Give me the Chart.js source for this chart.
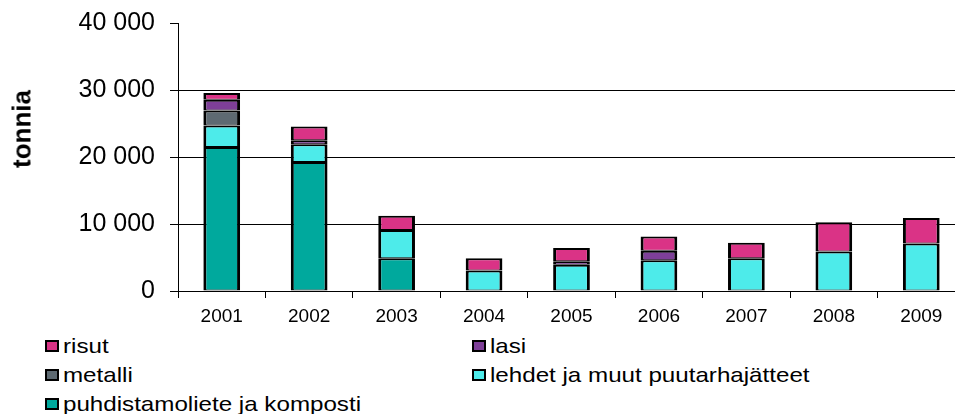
<!DOCTYPE html>
<html>
<head>
<meta charset="utf-8">
<script src="https://cdn.jsdelivr.net/npm/chart.js@4.4.1/dist/chart.umd.min.js"></script>
<style>
  html, body { margin: 0; padding: 0; background: #fff; overflow: hidden; width: 955px; height: 414px; }
  body { position: relative; font-family: "Liberation Sans", Arial, sans-serif; color: #000; }
  #wrap { position: absolute; left: 0; top: 0; width: 967px; height: 326px; }
  #yTitle {
    position: absolute; left: 22px; top: 129px;
    transform: translate(-50%, -50%) rotate(-90deg);
    font-weight: bold; font-size: 26px; white-space: nowrap;
  }
  .item { position: absolute; height: 24px; line-height: 24px; display: flex; align-items: center; font-size: 21px; white-space: nowrap; }
  .item .txt { display: inline-block; transform: scaleX(1.15); transform-origin: left center; }
  .box { width: 10px; height: 8px; border: 2px solid #000; margin-right: 4px; }
</style>
</head>
<body>
<div id="wrap"><canvas id="chart"></canvas></div>
<div id="yTitle">tonnia</div>
<div id="legend"></div>
<script>
const years = ["2001", "2002", "2003", "2004", "2005", "2006", "2007", "2008", "2009"];

// tonnia per vuosi, pinottuna alhaalta ylös
const puhdistamoliete = [21500, 19250, 4900, null, null, null, null, null, null];
const lehdet = [3200, 2650, 4200, 3050, 3900, 4600, 4900, 5900, 7100];
const metalli = [2250, null, null, null, null, null, null, null, null];
const lasi = [1600, 600, null, null, 550, 1400, null, null, null];
const risut = [1000, 2050, 2150, 1850, 1950, 2150, 2300, 4350, 3800];

const yTicks = [0, 10000, 20000, 30000, 40000];

const fmt = v => String(v).replace(/\B(?=(\d{3})+(?!\d))/g, " ");

const datasets = [
  { label: "puhdistamoliete ja komposti", data: puhdistamoliete, backgroundColor: "#00A99D" },
  { label: "lehdet ja muut puutarhajätteet", data: lehdet, backgroundColor: "#4DEBEA" },
  { label: "metalli", data: metalli, backgroundColor: "#5E6A72" },
  { label: "lasi", data: lasi, backgroundColor: "#7E3F98" },
  { label: "risut", data: risut, backgroundColor: "#DA3386" }
].map(d => Object.assign(d, {
  borderColor: "#000",
  borderWidth: { top: 2, bottom: 1, left: 3, right: 3 },
  borderSkipped: false,
  categoryPercentage: 1,
  barPercentage: 0.42
}));

const chart = new Chart(document.getElementById("chart"), {
  type: "bar",
  data: { labels: years, datasets },
  options: {
    responsive: true,
    maintainAspectRatio: false,
    animation: false,
    layout: { padding: { left: 0, top: 23, right: 2, bottom: 0 } },
    plugins: { legend: { display: false }, tooltip: { enabled: false } },
    scales: {
      x: {
        stacked: true,
        afterFit: s => { s.height = 35; },
        grid: { drawOnChartArea: false, tickLength: 7, color: "#000" },
        border: { color: "#000", width: 1 },
        ticks: { color: "#000", padding: 7, font: { family: "'Liberation Sans', Arial", size: 19 } }
      },
      y: {
        stacked: true,
        min: yTicks[0],
        max: yTicks[yTicks.length - 1],
        afterFit: s => { s.width = 178; s.paddingTop = 0; s.paddingBottom = 0; },
        afterBuildTicks: s => { s.ticks = yTicks.map(v => ({ value: v })); },
        grid: {
          color: c => (c.tick && c.tick.value === 40000) ? "rgba(0,0,0,0)" : "#000",
          tickColor: "#000",
          tickLength: 8,
          lineWidth: 1
        },
        border: { color: "#000", width: 1 },
        ticks: {
          color: "#000",
          padding: 15,
          font: { family: "'Liberation Sans', Arial", size: 25 },
          callback: v => fmt(v)
        }
      }
    }
  }
});

// selite kahdessa sarakkeessa, ylin pino-osa ensin
const legend = document.getElementById("legend");
const cols = [45, 472];
const rows = [334, 363, 392];
chart.data.datasets.slice().reverse().forEach((d, i) => {
  const el = document.createElement("div");
  el.className = "item";
  el.style.left = cols[i % 2] + "px";
  el.style.top = rows[Math.floor(i / 2)] + "px";
  el.innerHTML = `<span class="box" style="background:${d.backgroundColor}"></span><span class="txt">${d.label}</span>`;
  legend.appendChild(el);
});
</script>
</body>
</html>
